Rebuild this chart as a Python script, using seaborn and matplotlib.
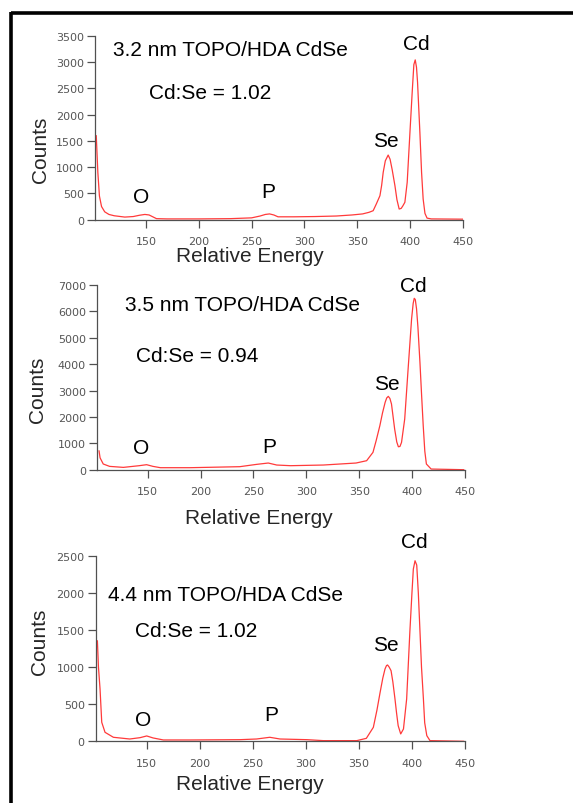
import matplotlib
matplotlib.use("Agg")
import matplotlib.pyplot as plt
import seaborn as sns
import pandas as pd
from matplotlib.lines import Line2D

# ---------------- data ----------------
energy_32 = [103, 104.5, 106, 108, 111, 115, 120, 130, 138, 144, 149, 153, 157, 160, 170, 200,
             230, 250, 258, 263, 267, 271, 275, 290, 310, 330, 345, 355, 361, 365, 368, 371.4,
             373, 374.5, 376.5, 379.2, 381, 383, 385.6, 387.5, 389.6, 391.5, 393, 395, 397.2,
             399.8, 402, 403.5, 404.8, 406, 407, 409.2, 410.8, 412.3, 414, 416, 420, 450]
counts_32 = [1600, 900, 450, 250, 150, 100, 75, 50, 60, 85, 100, 90, 50, 20, 15, 15,
             20, 35, 70, 100, 110, 90, 55, 55, 60, 70, 90, 110, 140, 171, 300, 456,
             650, 901, 1120, 1230, 1150, 950, 646, 380, 203, 215, 260, 331, 711,
             1661, 2450, 2950, 3040, 2900, 2612, 1661, 900, 393, 120, 30, 15, 10]

energy_35 = [104, 105, 108, 114, 127, 142, 149, 155, 162, 190, 237, 253, 264, 272, 285, 316,
             347, 357, 363, 366, 369.5, 372, 374.5, 376, 377.5, 379, 380.5, 383.5, 385.5, 387,
             388.5, 390, 393, 396, 399.5, 401, 402, 403, 404.2, 405.5, 407.4, 409, 410.5, 412,
             413.5, 418, 449]
counts_35 = [720, 450, 216, 126, 88, 152, 190, 126, 76, 76, 114, 202, 253, 177, 152, 177,
             253, 341, 657, 1100, 1668, 2150, 2553, 2720, 2780, 2700, 2490, 1540, 1050, 870,
             880, 1036, 1921, 3690, 5712, 6300, 6496, 6450, 6092, 5400, 4070, 2800, 1668, 700,
             215, 25, 0]

energy_44 = [103.5, 104.5, 106, 107.6, 110.7, 118.6, 134, 143.7, 150, 156, 165.7, 191, 238,
             253.6, 266, 275.6, 301, 316.5, 348, 357, 363.6, 367, 370, 372.5, 374.6, 376, 377,
             378.5, 380.3, 382, 384, 385.5, 387, 389.4, 392, 395, 398, 400, 401.3, 402.9, 404.5,
             406, 407.6, 409, 410.8, 412, 414, 417, 449]
counts_44 = [1355, 1000, 705, 256, 121, 54, 31, 49, 72, 45, 18, 18, 22,
             31, 54, 31, 22, 9, 9, 40, 188, 420, 660, 850, 974, 1020, 1028,
             1000, 951, 800, 570, 380, 211, 99, 166, 570, 1468, 2000, 2320, 2432, 2374,
             2000, 1468, 1000, 570, 250, 76, 9, 0]

panel_titles = ["3.2 nm TOPO/HDA CdSe", "3.5 nm TOPO/HDA CdSe", "4.4 nm TOPO/HDA CdSe"]
panel_ratios = ["Cd:Se = 1.02", "Cd:Se = 0.94", "Cd:Se = 1.02"]
x_ticks = [150, 200, 250, 300, 350, 400, 450]
y_tops = [3500, 7000, 2500]
y_steps = [500, 1000, 500]
x_label = "Relative Energy"
y_label = "Counts"
peak_names = ["O", "P", "Se", "Cd"]

# annotation positions (data coords) per panel: title, ratio, O, P, Se, Cd
title_pos = [(119, 3232), (128.5, 6243), (113.8, 1984)]
ratio_pos = [(153, 2422), (139, 4322), (139, 1499)]
peak_pos = [
    [(145, 445), (265.7, 540), (377, 1515), (406, 3359)],
    [(143.4, 849), (265, 887), (376.5, 3275), (401, 7000)],
    [(146.8, 292), (267.8, 355), (375.6, 1310), (402, 2689)],
]

# ---------------- style ----------------
sns.set_theme(style="ticks")
plt.rcParams["font.family"] = ["Liberation Sans", "DejaVu Sans"]

W, H = 573, 804
fig = plt.figure(figsize=(W / 100, H / 100), dpi=100)
fig.patch.set_facecolor("white")

axes_px = [  # left px, right px, bottom px (y of 0), top px (y of ymax)
    (95.2, 463.0, 220.7, 36.7),
    (96.9, 465.0, 470.7, 286.0),
    (95.8, 465.0, 742.3, 556.7),
]
label_px = [  # xlabel center (x, y), ylabel center (x, y)
    ((249.4, 257.0), (40.7, 150.0)),
    ((259.0, 518.0), (37.0, 390.0)),
    ((250.0, 785.0), (39.7, 641.7)),
]

datasets = [(energy_32, counts_32), (energy_35, counts_35), (energy_44, counts_44)]
line_color = "#ff3a3a"
axis_color = "#505050"
fs = 15

for i, (ex, cy) in enumerate(datasets):
    lpx, rpx, bpx, tpx = axes_px[i]
    ax = fig.add_axes([lpx / W, 1 - bpx / H, (rpx - lpx) / W, (bpx - tpx) / H])
    ax.set_facecolor("none")
    df = pd.DataFrame({"energy": ex, "counts": cy})
    sns.lineplot(data=df, x="energy", y="counts", ax=ax, color=line_color,
                 linewidth=0.9, estimator=None, sort=True)
    ax.set_xlim(102, 450)
    ax.set_ylim(0, y_tops[i])
    ax.set_xticks(x_ticks)
    ax.set_yticks(list(range(0, y_tops[i] + 1, y_steps[i])))
    ax.set_xlabel("")
    ax.set_ylabel("")
    for s in ["top", "right"]:
        ax.spines[s].set_visible(False)
    for s in ["left", "bottom"]:
        ax.spines[s].set_color(axis_color)
        ax.spines[s].set_linewidth(0.9)
    ax.tick_params(axis="both", colors=axis_color, labelcolor="#555555",
                   length=6, width=0.9, labelsize=8)
    ax.tick_params(axis="x", pad=6)
    ax.tick_params(axis="y", pad=2)
    for lab in ax.get_xticklabels() + ax.get_yticklabels():
        lab.set_fontfamily("DejaVu Sans")

    ax.text(*title_pos[i], panel_titles[i], fontsize=fs, ha="left", va="center",
            color="black", clip_on=False)
    ax.text(*ratio_pos[i], panel_ratios[i], fontsize=fs, ha="left", va="center",
            color="black", clip_on=False)
    for name, (px, py) in zip(peak_names, peak_pos[i]):
        ax.text(px, py, name, fontsize=fs, ha="center", va="center",
                color="black", clip_on=False)

    (xlx, xly), (ylx, yly) = label_px[i]
    fig.text(xlx / W, 1 - xly / H, x_label, fontsize=fs, ha="center", va="center")
    fig.text(ylx / W, 1 - yly / H, y_label, fontsize=fs, ha="center", va="center",
             rotation=90)

# frame lines (top and left)
fig.add_artist(Line2D([11 / W, 1.0], [1 - 14 / H, 1 - 14 / H], transform=fig.transFigure,
                      color="black", linewidth=2.6, solid_capstyle="butt"))
fig.add_artist(Line2D([11 / W, 11 / W], [1 - 12.7 / H, 0.0], transform=fig.transFigure,
                      color="black", linewidth=2.6, solid_capstyle="butt"))

fig.savefig("out.png", dpi=100, facecolor="white")
